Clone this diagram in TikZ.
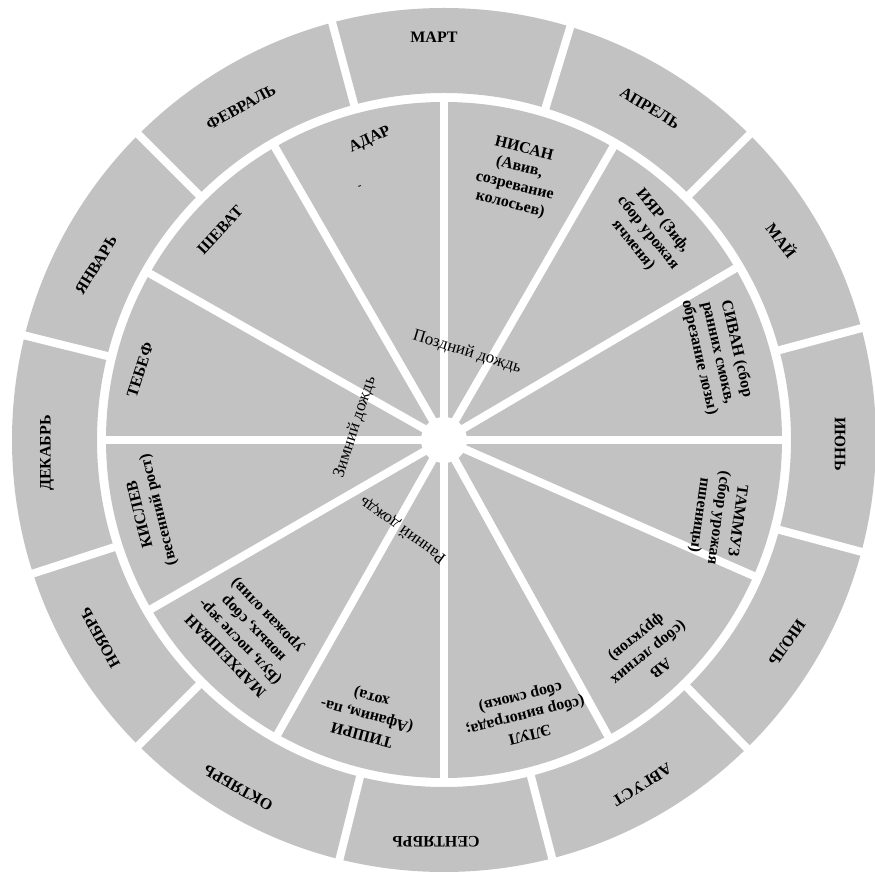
\documentclass[tikz,border=0pt]{standalone}
\usepackage{fontspec}
\setmainfont{Liberation Serif}
\begin{document}
\begin{tikzpicture}[x=1pt,y=1pt,
  lbl/.style={font=\bfseries\fontsize{16}{19}\selectfont, align=center, inner sep=0pt},
  rain/.style={font=\fontsize{17}{20}\selectfont, inner sep=0pt},
  gapline/.style={white, line width=8pt},
  ringfill/.style={fill=black!24}]
\useasboundingbox (-444,-434) rectangle (431,440);
\fill[white] (-444,-434) rectangle (431,440);
% outer ring (Gregorian months)
\fill[ringfill, even odd rule] (0,0) circle (432) (0,0) circle (347);
% inner disc (Hebrew months)
\fill[ringfill] (0,0) circle (338);
% gaps between Gregorian months
\foreach \a in {105,73,45,15,-15,-45.5,-75.5,256,225,198,166,135}
  \draw[gapline] (\a:344) -- (\a:437);
% spokes between Hebrew months
\foreach \a in {0,30.5,60,90,120,150.5,180,210,240.5,270,-61,-23.7}
  \draw[gapline] (0,0) -- (\a:340);
\fill[white] (0,0) circle (23);
% Gregorian months
\node[lbl, rotate=0]    (mar) at (-10,403)  {МАРТ};
\node[lbl, rotate=-31]  (apr) at (206,332)  {АПРЕЛЬ};
\node[lbl, rotate=-53]  (may) at (338,200)  {МАЙ};
\node[lbl, rotate=-90]  (jun) at (396,-4)   {ИЮНЬ};
\node[lbl, rotate=-125] (jul) at (343,-203) {ИЮЛЬ};
\node[lbl, rotate=-148] (aug) at (198,-345) {АВГУСТ};
\node[lbl, rotate=180]  (sep) at (-8,-402)  {СЕНТЯБРЬ};
\node[lbl, rotate=151]  (oct) at (-206,-348) {ОКТЯБРЬ};
\node[lbl, rotate=119]  (nov) at (-344,-198) {НОЯБРЬ};
\node[lbl, rotate=90]   (dec) at (-397,-13) {ДЕКАБРЬ};
\node[lbl, rotate=58]   (jan) at (-348,175) {ЯНВАРЬ};
\node[lbl, rotate=29]   (feb) at (-203,333) {ФЕВРАЛЬ};
% Hebrew months
\node[lbl, rotate=25]   (adar) at (-74,300) {АДАР};
\node[lbl, font=\bfseries\fontsize{11}{12}\selectfont, rotate=20] (adardash) at (-84,253) {-};
\node[lbl, rotate=-14]  (nisan) at (73,263) {НИСАН\\(Авив,\\созревание\\колосьев)};
\node[lbl, rotate=-51]  (iyar) at (204,207) {ИЯР (Зиф,\\сбор урожая\\ячменя)};
\node[lbl, rotate=-77]  (sivan) at (274,87) {СИВАН (сбор\\ранних смокв,\\обрезание лозы)};
\node[lbl, rotate=-98]  (tammuz) at (274,-78) {ТАММУЗ\\(сбор урожая\\пшеницы)};
\node[lbl, rotate=-141] (av) at (204,-212) {АВ\\(сбор летних\\фруктов)};
\node[lbl, rotate=-166] (elul) at (81,-275) {ЭЛУЛ\\(сбор винограда;\\сбор смокв)};
\node[lbl, rotate=165]  (tishri) at (-77,-275) {ТИШРИ\\(Афаним, па-\\хота)};
\node[lbl, rotate=134]  (marh) at (-197,-195) {МАРХЕШВАН\\(Бул, после зер-\\новых, сбор\\урожая олив)};
\node[lbl, rotate=104]  (kislev) at (-294,-72) {КИСЛЕВ\\(весенний рост)};
\node[lbl, rotate=72]   (tebef) at (-304,70) {ТЕБЕФ};
\node[lbl, rotate=47]   (shevat) at (-224,210) {ШЕВАТ};
% rains
\node[rain, rotate=-17] (late) at (23,88) {Поздний дождь};
\node[rain, rotate=72]  (winter) at (-89,13) {Зимний дождь};
\node[rain, rotate=144] (early) at (-41,-90) {Ранний дождь};
\end{tikzpicture}
\end{document}
